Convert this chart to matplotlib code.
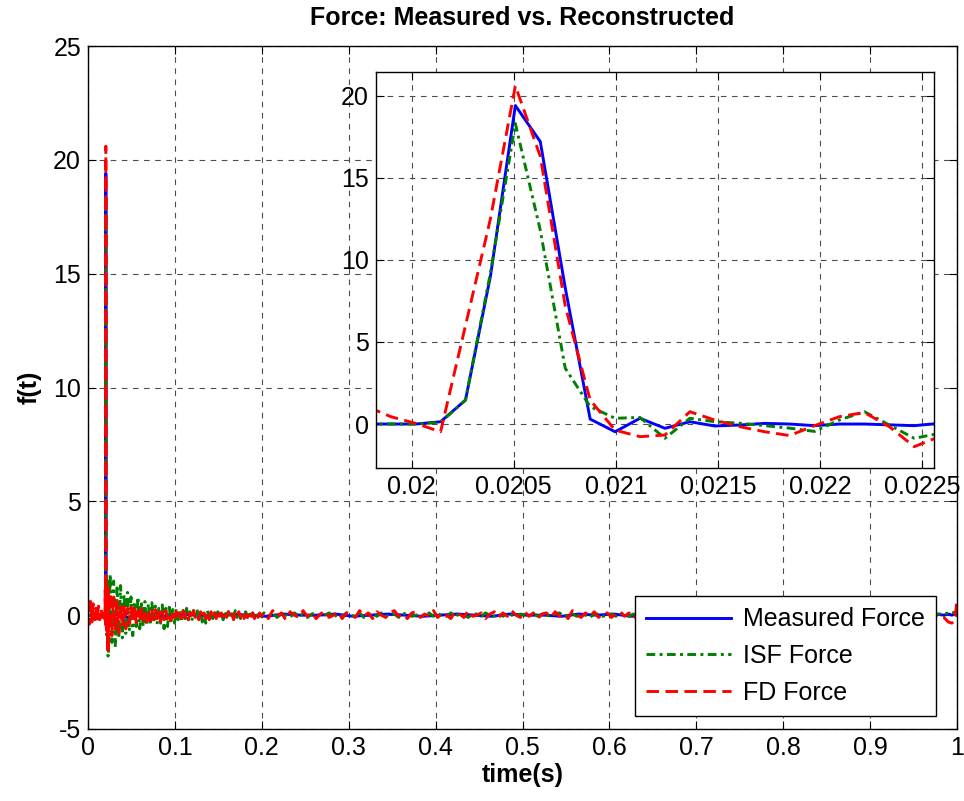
import numpy as np
import matplotlib
matplotlib.use("Agg")
import matplotlib.pyplot as plt

plt.rcParams['font.family'] = ['Liberation Sans', 'DejaVu Sans']
plt.rcParams['font.size'] = 18
plt.rcParams['axes.unicode_minus'] = False

## data
# sample rate of the record (inset shows the single samples around the impact)
fs = 8192.0

# before the impact (only the FD force shows some noise)
pre_t = np.arange(0.0, 0.0195, 0.0015)
pre_measured = [0.0, 0.0, 0.0, 0.0, 0.0, 0.0, 0.0, 0.0, 0.0, 0.0, 0.0, 0.0, 0.0]
pre_isf = [0.0, 0.0, 0.0, 0.0, 0.0, 0.0, 0.0, 0.0, 0.0, 0.0, 0.0, 0.0, 0.0]
pre_fd = [0.7, -0.4, 0.6, -0.3, 0.5, -0.2, 0.3, -0.3, 0.4, -0.2, 0.3, -0.1, 0.2]

# impact, samples k = 160 ... 191
spike_k = np.arange(160, 192)
spike_measured = [0.0, 0.0, 0.0, 0.0, 0.0, 0.14, 1.46, 9.0, 19.4, 17.2, 8.3, 0.3,
                  -0.47, 0.35, -0.26, 0.14, -0.12, -0.06, 0.04, 0.0, -0.1, 0.0,
                  0.0, -0.05, -0.1, 0.04, 0.05, -0.05, 0.0, 0.05, -0.05, 0.0]
spike_isf = [0.0, 0.0, 0.0, 0.0, 0.0, 0.1, 1.46, 9.2, 18.3, 11.8, 3.4, 1.06,
             0.35, 0.4, -0.87, 0.35, 0.14, 0.05, -0.1, -0.25, -0.45, 0.25,
             0.75, -0.06, -0.87, -0.57, 0.9, 1.6, -0.5, -1.8, 0.5, 1.5]
spike_fd = [0.3, -0.2, 1.1, 0.45, 0.04, -0.47, 6.0, 12.5, 20.6, 16.3, 7.2, 1.46,
            -0.37, -0.77, -0.67, 0.75, 0.24, -0.16, -0.47, -0.7, -0.1, 0.45,
            0.7, -0.16, -1.38, -0.77, 0.9, -1.0, 1.2, -1.7, 0.8, -1.2]

# ringing after the impact
ring_t = np.arange(0.0235, 0.2, 0.002)
ring_isf = [-1.7, 1.8, -1.2, 1.5, -1.4, 1.2, -0.9, 1.3, -1.0, 0.9,
            -0.8, 1.0, -0.7, 0.8, -0.9, 0.6, -0.5, 0.8, -0.6, 0.5,
            -0.5, 0.6, -0.4, 0.5, -0.45, 0.55, -0.3, 0.4, -0.4, 0.3,
            -0.35, 0.45, -0.6, 0.3, -0.5, 0.35, -0.3, 0.25, -0.35, 0.3,
            -0.2, 0.25, -0.3, 0.2, -0.25, 0.3, -0.2, 0.15, -0.25, 0.2,
            -0.15, 0.25, -0.2, 0.1, -0.3, 0.15, -0.35, 0.2, -0.2, 0.15,
            -0.15, 0.2, -0.1, 0.15, -0.15, 0.1, -0.2, 0.15, -0.1, 0.15,
            -0.15, 0.1, -0.1, 0.2, -0.1, 0.1, -0.15, 0.1, -0.1, 0.15,
            -0.1, 0.1, -0.15, 0.1, -0.05, 0.1, -0.1, 0.05, -0.05]
ring_fd = [-1.6, 1.0, -0.9, 0.8, -0.7, 0.6, -0.8, 0.5, -0.5, 0.4,
           -0.6, 0.3, -0.4, 0.35, -0.3, 0.4, -0.35, 0.2, -0.3, 0.3,
           -0.2, 0.25, -0.3, 0.15, -0.25, 0.2, -0.2, 0.25, -0.15, 0.2,
           -0.3, 0.15, -0.2, 0.2, -0.15, 0.1, -0.25, 0.2, -0.1, 0.15,
           -0.2, 0.1, -0.15, 0.2, -0.1, 0.15, -0.2, 0.1, -0.15, 0.2,
           -0.1, 0.05, -0.2, 0.15, -0.1, 0.1, -0.15, 0.1, -0.2, 0.15,
           -0.1, 0.1, -0.15, 0.2, -0.05, 0.1, -0.15, 0.05, -0.1, 0.15,
           -0.1, 0.05, -0.2, 0.1, -0.05, 0.15, -0.1, 0.1, -0.15, 0.05,
           -0.1, 0.15, -0.05, 0.1, -0.15, 0.05, -0.1, 0.1, -0.05]

# rest of the record
tail_t = np.arange(0.2025, 0.98, 0.005)
tail_isf = [0.1, -0.05, 0.1, -0.1, 0.05, 0.0, -0.1, 0.1, -0.05, 0.05,
            -0.1, 0.05, 0.1, -0.05, 0.0, 0.1, -0.1, 0.05, -0.05, 0.1,
            0.0, -0.05, 0.1, -0.1, 0.05, 0.05, -0.05, 0.1, -0.05, 0.0,
            0.05, -0.1, 0.05, 0.1, -0.05, 0.0, 0.05, -0.05, 0.1, -0.05,
            0.05, 0.0, -0.05, 0.1, -0.05, 0.05, 0.0, -0.1, 0.05, 0.05,
            -0.05, 0.1, 0.0, -0.05, 0.05, -0.05, 0.1, 0.0, -0.05, 0.05,
            0.0, -0.05, 0.1, -0.05, 0.05, 0.0, -0.05, 0.05, 0.1, -0.05,
            0.0, 0.05, -0.05, 0.05, 0.0, -0.1, 0.05, 0.05, -0.05, 0.0,
            0.05, -0.05, 0.1, 0.0, -0.05, 0.05, 0.0, -0.05, 0.05, 0.0,
            -0.05, 0.05, 0.0, 0.05, -0.05, 0.0, 0.05, -0.05, 0.05, 0.0,
            0.05, -0.05, 0.0, 0.05, -0.05, 0.05, 0.0, -0.05, 0.05, 0.0,
            -0.05, 0.05, 0.0, -0.05, 0.05, 0.0, 0.05, -0.05, 0.0, 0.05,
            -0.05, 0.0, 0.05, -0.05, 0.05, 0.0, -0.05, 0.05, 0.0, -0.05,
            0.05, 0.0, -0.05, 0.05, 0.0, 0.05, -0.05, 0.0, 0.05, -0.05,
            0.0, 0.05, -0.05, 0.0, 0.05, -0.05, 0.05, 0.0, -0.05, 0.05,
            0.0, -0.05, 0.05, 0.0, -0.05, 0.05]
tail_fd = [0.1, -0.15, 0.2, -0.05, 0.1, -0.2, 0.15, 0.0, -0.1, 0.2,
           -0.05, 0.1, -0.15, 0.05, 0.2, -0.1, 0.0, 0.15, -0.15, 0.1,
           0.05, -0.1, 0.2, -0.05, 0.1, -0.15, 0.15, 0.0, -0.1, 0.1,
           0.2, -0.05, 0.05, -0.15, 0.1, 0.15, -0.1, 0.05, -0.05, 0.2,
           -0.1, 0.1, 0.0, -0.15, 0.15, 0.05, -0.1, 0.2, -0.05, 0.0,
           0.1, -0.15, 0.05, 0.15, -0.1, 0.1, -0.05, 0.2, 0.0, -0.1,
           0.15, -0.05, 0.1, -0.15, 0.05, 0.1, -0.1, 0.15, -0.05, 0.05,
           -0.15, 0.2, 0.0, -0.1, 0.1, -0.05, 0.15, -0.1, 0.05, 0.1,
           -0.1, 0.05, 0.15, -0.05, 0.1, -0.15, 0.05, 0.2, -0.1, 0.0,
           0.1, -0.1, 0.15, -0.05, 0.05, -0.1, 0.1, 0.15, -0.05, 0.0,
           -0.1, 0.1, -0.05, 0.15, 0.0, -0.1, 0.05, 0.1, -0.15, 0.05,
           0.1, -0.05, 0.15, -0.1, 0.0, 0.1, -0.05, 0.05, -0.1, 0.15,
           -0.05, 0.05, -0.15, 0.1, 0.05, -0.1, 0.1, -0.05, 0.0, 0.1,
           -0.1, 0.05, 0.1, -0.05, 0.15, -0.1, 0.05, -0.05, 0.1, -0.1,
           0.05, 0.0, -0.1, 0.1, -0.05, 0.05, 0.1, -0.1, 0.0, 0.05,
           -0.1, 0.1, -0.05, 0.05, -0.1, 0.0]

# measured force is nearly flat after the impact
mtail_t = np.arange(0.025, 0.98, 0.02)
mtail_measured = [0.1, -0.1, 0.05, -0.05, 0.05, 0.0, -0.05, 0.05, 0.0, -0.05,
                  0.05, 0.0, 0.0, 0.05, -0.05, 0.0, 0.05, 0.0, -0.05, 0.0,
                  0.05, 0.0, -0.05, 0.05, 0.0, 0.0, -0.05, 0.05, 0.0, 0.05,
                  -0.05, 0.0, 0.05, 0.0, -0.05, 0.05, 0.0, 0.0, 0.05, -0.05,
                  0.0, 0.05, 0.0, -0.05, 0.0, 0.05, 0.0, 0.1]

# last samples
end_t = [0.985, 0.99, 0.994, 0.997, 0.999, 1.0]
end_measured = [0.0, 0.05, 0.0, 0.05, 0.0, 0.0]
end_isf = [0.05, 0.1, 0.15, 0.1, 0.05, 0.1]
end_fd = [-0.1, -0.3, -0.35, -0.25, 0.3, 0.7]

spike_t = spike_k / fs
t_m = np.concatenate([pre_t, spike_t, mtail_t, end_t])
f_m = np.concatenate([pre_measured, spike_measured, mtail_measured, end_measured])
t_r = np.concatenate([pre_t, spike_t, ring_t, tail_t, end_t])
f_isf = np.concatenate([pre_isf, spike_isf, ring_isf, tail_isf, end_isf])
f_fd = np.concatenate([pre_fd, spike_fd, ring_fd, tail_fd, end_fd])

main_xticks = [0, 0.1, 0.2, 0.3, 0.4, 0.5, 0.6, 0.7, 0.8, 0.9, 1]
main_xlabels = ['0', '0.1', '0.2', '0.3', '0.4', '0.5', '0.6', '0.7', '0.8', '0.9', '1']
main_yticks = [-5, 0, 5, 10, 15, 20, 25]
zoom_xticks = [0.02, 0.0205, 0.021, 0.0215, 0.022, 0.0225]
zoom_xlabels = ['0.02', '0.0205', '0.021', '0.0215', '0.022', '0.0225']
zoom_yticks = [0, 5, 10, 15, 20]

# line styles (matlab like)
lw = 2.1
st_m = dict(color='#0000ff', lw=lw, linestyle='-')
st_isf = dict(color='#008000', lw=lw, linestyle=(0, (3, 1.5, 1, 1.5)))
st_fd = dict(color='#ff0000', lw=lw, linestyle=(0, (4.3, 2.2)))
grid_st = dict(color='0.3', lw=0.8, linestyle=(0, (5, 5)))


def style_axes(ax):
    ax.tick_params(direction='in', length=6, width=0.8, top=True, right=True,
                   pad=5, labelsize=18)
    for s in ax.spines.values():
        s.set_linewidth(1.0)
        s.set_color('black')
    ax.grid(True, **grid_st)
    ax.set_axisbelow(True)


fig = plt.figure(figsize=(9.64, 8.01), dpi=100)

ax = fig.add_axes([88 / 964, 1 - 729 / 801, 869 / 964, 683 / 801])
ax.plot(t_m, f_m, label='Measured Force', **st_m)
ax.plot(t_r, f_isf, label='ISF Force', **st_isf)
ax.plot(t_r, f_fd, label='FD Force', **st_fd)
ax.set_xlim(0, 1)
ax.set_ylim(-5, 25)
ax.set_xticks(main_xticks)
ax.set_xticklabels(main_xlabels)
ax.set_yticks(main_yticks)
style_axes(ax)
ax.set_title('Force: Measured vs. Reconstructed', fontsize=18, fontweight='bold', pad=15)
ax.set_xlabel('time(s)', fontsize=18, fontweight='bold', labelpad=2)
ax.set_ylabel('f(t)', fontsize=18, fontweight='bold', labelpad=8)

leg = ax.legend(loc='lower right', bbox_to_anchor=(936 / 964, 1 - 716 / 801),
                bbox_transform=fig.transFigure, borderaxespad=0, fontsize=18,
                fancybox=False, framealpha=1, edgecolor='black',
                handlelength=3.4, handletextpad=0.45, labelspacing=0.5,
                borderpad=0.46)
leg.get_frame().set_linewidth(1.0)

# zoom on the impact
axi = fig.add_axes([375.7 / 964, 1 - 467.7 / 801, 558.6 / 964, 396 / 801])
axi.plot(t_m, f_m, **st_m)
axi.plot(t_r, f_isf, **st_isf)
axi.plot(t_r, f_fd, **st_fd)
axi.set_xlim(0.019824, 0.022559)
axi.set_ylim(-2.66, 21.46)
axi.set_xticks(zoom_xticks)
axi.set_xticklabels(zoom_xlabels)
axi.set_yticks(zoom_yticks)
style_axes(axi)

fig.savefig('out.png', dpi=100)
